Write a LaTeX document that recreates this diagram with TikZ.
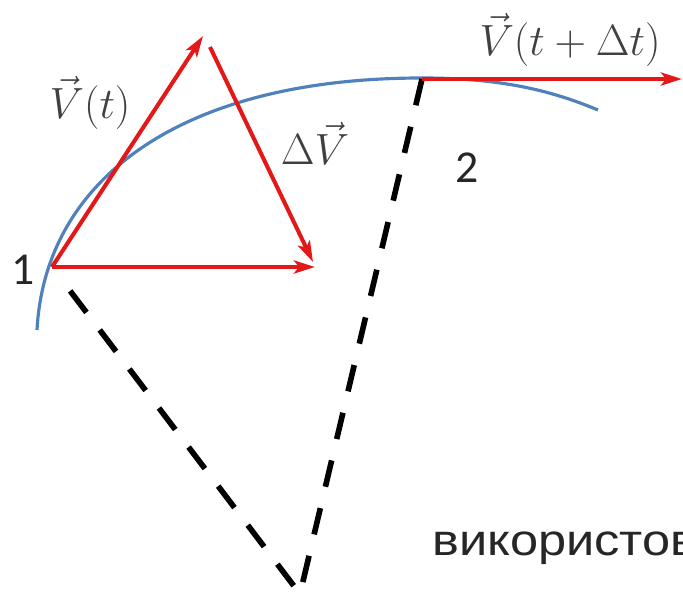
\documentclass[tikz,border=0pt]{standalone}
\usepackage{fontspec}
\setmainfont{Carlito}
\newfontfamily\uafont[FakeStretch=1.15]{Liberation Sans}
\usetikzlibrary{arrows.meta}

\definecolor{vecred}{RGB}{228,24,24}
\definecolor{pathblue}{RGB}{79,129,189}
\definecolor{labelgray}{RGB}{64,64,64}

\tikzset{
    vecarrow/.style={-{Stealth[length=0.42cm,width=0.26cm,inset=0.1cm]}, line width=2.3pt, vecred},
    radius line/.style={line width=3.2pt, dash pattern=on 0.54cm off 0.44cm},
    veclabel/.style={labelgray, font=\fontsize{28}{32}\selectfont},
    pointlabel/.style={black!85, font=\fontsize{26}{30}\selectfont}
}

\begin{document}
\begin{tikzpicture}
    \useasboundingbox (0,0) rectangle (13.66,12);
    \clip (0,0) rectangle (13.66,12);
    \fill[white] (0,0) rectangle (13.66,12);

    % points of the path and centre
    \coordinate (p1) at (1.04,6.66);
    \coordinate (p2) at (8.44,10.42);
    \coordinate (o) at (6.00,0.12);
    \coordinate (vt) at (4.06,11.28);
    \coordinate (dvstart) at (4.20,11.06);
    \coordinate (dvend) at (6.26,6.76);
    \coordinate (vcopy) at (6.30,6.66);
    \coordinate (v2) at (13.64,10.42);

    % trajectory
    \draw[pathblue, line width=1.8pt] (0.74,5.40)
        .. controls (0.9,8.4) and (3.6,10.44) .. (8.44,10.44)
        .. controls (10.0,10.44) and (11.0,10.2) .. (11.96,9.80);

    % radii
    \draw[radius line, shorten <=0.6cm] (p1) -- (o);
    \draw[radius line] (p2) -- (o);

    % velocity vectors
    \draw[vecarrow] (p1) -- (vt);
    \draw[vecarrow] (p1) -- (vcopy);
    \draw[vecarrow] (dvstart) -- (dvend);
    \draw[vecarrow] (p2) -- (v2);

    \node[veclabel] (vtlabel) at (1.8,9.94) {\(\vec{V}(t)\)};
    \node[veclabel] (dvlabel) at (6.3,9.14) {\(\Delta\vec{V}\)};
    \node[veclabel] (v2label) at (11.4,11.2) {\(\vec{V}(t+\Delta t)\)};

    \node[pointlabel] (onelabel) at (0.46,6.6) {1};
    \node[pointlabel] (twolabel) at (9.34,8.64) {2};

    \node[anchor=west, inner sep=0pt, font=\uafont\fontsize{25}{29}\selectfont, black!85]
        (uatext) at (8.64,1.04) {використов};
\end{tikzpicture}
\end{document}
